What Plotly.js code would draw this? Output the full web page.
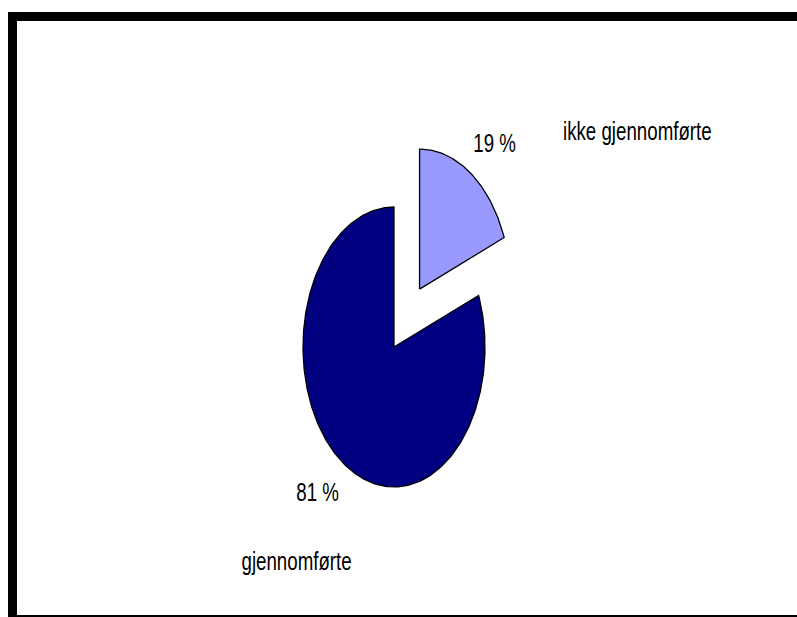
<!DOCTYPE html>
<html>
<head>
<meta charset="utf-8">
<script src="https://cdn.plot.ly/plotly-3.0.1.min.js"></script>
<style>
  html, body { margin: 0; padding: 0; background: #ffffff; }
  #chart { width: 797px; height: 617px; }
</style>
</head>
<body>
<div id="chart"></div>
<script>
// Share of participants who completed / did not complete
const categories = ['ikke gjennomførte', 'gjennomførte'];
const shares = [19, 81];
const pulls = [0.5, 0];
const sliceColors = ['#9999FF', '#000080'];

// Figure geometry (pixels)
const W = 797, H = 617;
const CX = 394, CY = 347;   // pie centre
const RX = 91, RY = 140;    // elliptical pie radii

// Label placement (pixels)
const pctPos = [[494, 143], [317, 492]];
const namePos = [[637, 131], [296, 561]];
const TEXT_SQUEEZE = 0.72;  // narrow lettering

const total = shares.reduce((a, b) => a + b, 0);
const traces = [];
let cum = 0;
shares.forEach((v, i) => {
  const a0 = 2 * Math.PI * cum / total;
  const a1 = 2 * Math.PI * (cum + v) / total;
  cum += v;
  const mid = (a0 + a1) / 2;
  const ox = pulls[i] * Math.sin(mid);
  const oy = pulls[i] * Math.cos(mid);
  const xs = [ox], ys = [oy];
  const n = Math.max(8, Math.ceil((a1 - a0) / (Math.PI / 180)));
  for (let k = 0; k <= n; k++) {
    const a = a0 + (a1 - a0) * k / n;
    xs.push(ox + Math.sin(a));
    ys.push(oy + Math.cos(a));
  }
  xs.push(ox); ys.push(oy);
  traces.push({
    type: 'scatter', mode: 'lines', x: xs, y: ys,
    fill: 'toself', fillcolor: sliceColors[i],
    line: { color: '#000000', width: 1.3 },
    name: categories[i], hoverinfo: 'skip', showlegend: false
  });
});

const font = { family: '"Liberation Sans Narrow", "Arial Narrow", "Liberation Sans", Arial, sans-serif', size: 26, color: '#000000' };
const annotations = [];
shares.forEach((v, i) => {
  annotations.push({
    xref: 'paper', yref: 'paper',
    x: pctPos[i][0] / W, y: 1 - pctPos[i][1] / H,
    xanchor: 'center', yanchor: 'middle',
    text: v + ' %', showarrow: false, font: font
  });
  annotations.push({
    xref: 'paper', yref: 'paper',
    x: namePos[i][0] / W, y: 1 - namePos[i][1] / H,
    xanchor: 'center', yanchor: 'middle',
    text: categories[i], showarrow: false, font: font
  });
});

// Frame: heavy left and top bars, thin bottom rule
const px = x => x / W, py = y => 1 - y / H;
const shapes = [
  { type: 'rect', xref: 'paper', yref: 'paper', x0: px(8), x1: px(17), y0: py(617), y1: py(12), fillcolor: '#000', line: { width: 0 } },
  { type: 'rect', xref: 'paper', yref: 'paper', x0: px(8), x1: px(797), y0: py(21), y1: py(12), fillcolor: '#000', line: { width: 0 } },
  { type: 'rect', xref: 'paper', yref: 'paper', x0: px(8), x1: px(797), y0: py(617), y1: py(615), fillcolor: '#000', line: { width: 0 } }
];

const layout = {
  width: W, height: H,
  margin: { l: 0, r: 0, t: 0, b: 0 },
  paper_bgcolor: '#ffffff', plot_bgcolor: '#ffffff',
  xaxis: { range: [-CX / RX, (W - CX) / RX], visible: false, fixedrange: true },
  yaxis: { range: [-(H - CY) / RY, CY / RY], visible: false, fixedrange: true },
  showlegend: false, hovermode: false,
  annotations: annotations, shapes: shapes
};

Plotly.newPlot('chart', traces, layout, { displayModeBar: false, staticPlot: true }).then(gd => {
  // Condense the label lettering horizontally about each label's centre
  gd.querySelectorAll('.annotation-text').forEach(t => {
    const b = t.getBBox();
    const c = b.x + b.width / 2;
    t.setAttribute('transform', `translate(${c},0) scale(${TEXT_SQUEEZE},1) translate(${-c},0)`);
  });
});
</script>
</body>
</html>
